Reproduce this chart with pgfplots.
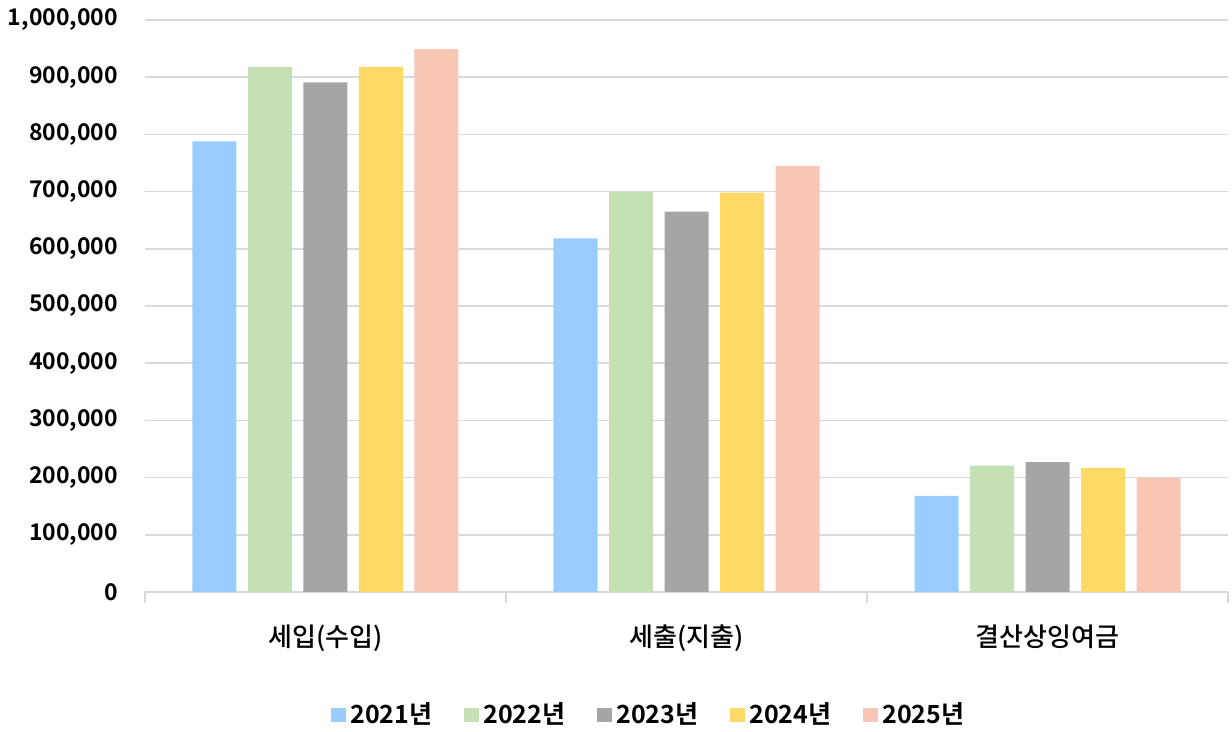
\documentclass[border=0pt]{standalone}
\usepackage{fontspec}
\setmainfont{Noto Sans CJK KR}[BoldFont={Noto Sans CJK KR Bold}]
\newfontfamily\medfont{Noto Sans CJK KR Medium}
\usepackage{pgfplots}
\pgfplotsset{compat=1.18}
\definecolor{c1}{HTML}{99CCFF}
\definecolor{c2}{HTML}{C5E0B4}
\definecolor{c3}{HTML}{A5A5A5}
\definecolor{c4}{HTML}{FFD966}
\definecolor{c5}{HTML}{F8C6B5}
\definecolor{gridc}{HTML}{D9D9D9}
\begin{document}
\begin{tikzpicture}
\useasboundingbox (-72.5pt,-70pt) rectangle (543.5pt,296pt);
\begin{axis}[
  at={(0,0)}, anchor=south west,
  scale only axis,
  width=541.5pt, height=286pt,
  ybar=5.75pt, bar width=22pt,
  xmin=-0.5, xmax=2.5,
  ymin=0, ymax=1000000,
  xtick={0,1,2},
  xticklabels={세입(수입),세출(지출),결산상잉여금},
  minor xtick={-0.5,0.5,1.5,2.5},
  major tick length=0pt,
  minor tick length=5.5pt,
  tick align=outside,
  tick style={draw=gridc, line width=0.8pt},
  ytick={0,100000,200000,300000,400000,500000,600000,700000,800000,900000,1000000},
  yticklabels={0,{100,000},{200,000},{300,000},{400,000},{500,000},{600,000},{700,000},{800,000},{900,000},{1,000,000}},
  ytick style={draw=none},
  scaled y ticks=false,
  yticklabel style={font=\fontsize{11.5pt}{13pt}\selectfont\bfseries, xshift=-10pt},
  xticklabel style={font=\fontsize{13pt}{15pt}\medfont, yshift=-13pt},
  ymajorgrids, grid style={draw=gridc, line width=0.8pt},
  axis x line*=bottom,
  axis y line*=left,
  y axis line style={draw=none},
  x axis line style={draw=gridc, line width=0.8pt, -},
  legend columns=5,
  legend style={draw=none, at={(0.4663,-0.215)}, anchor=center,
    font=\fontsize{12.5pt}{14pt}\selectfont\bfseries,
    /tikz/every even column/.append style={column sep=14pt}},
  legend image code/.code={\fill[#1] (0pt,-3.5pt) rectangle (7.5pt,3.5pt);},
]
\addplot[fill=c1, draw=none] coordinates {(0,788000) (1,618000) (2,168000)};
\addplot[fill=c2, draw=none] coordinates {(0,918000) (1,699000) (2,221000)};
\addplot[fill=c3, draw=none] coordinates {(0,891000) (1,665000) (2,227000)};
\addplot[fill=c4, draw=none] coordinates {(0,918000) (1,698000) (2,217000)};
\addplot[fill=c5, draw=none] coordinates {(0,949000) (1,745000) (2,200000)};
\legend{2021년,2022년,2023년,2024년,2025년}
\end{axis}
\end{tikzpicture}
\end{document}
